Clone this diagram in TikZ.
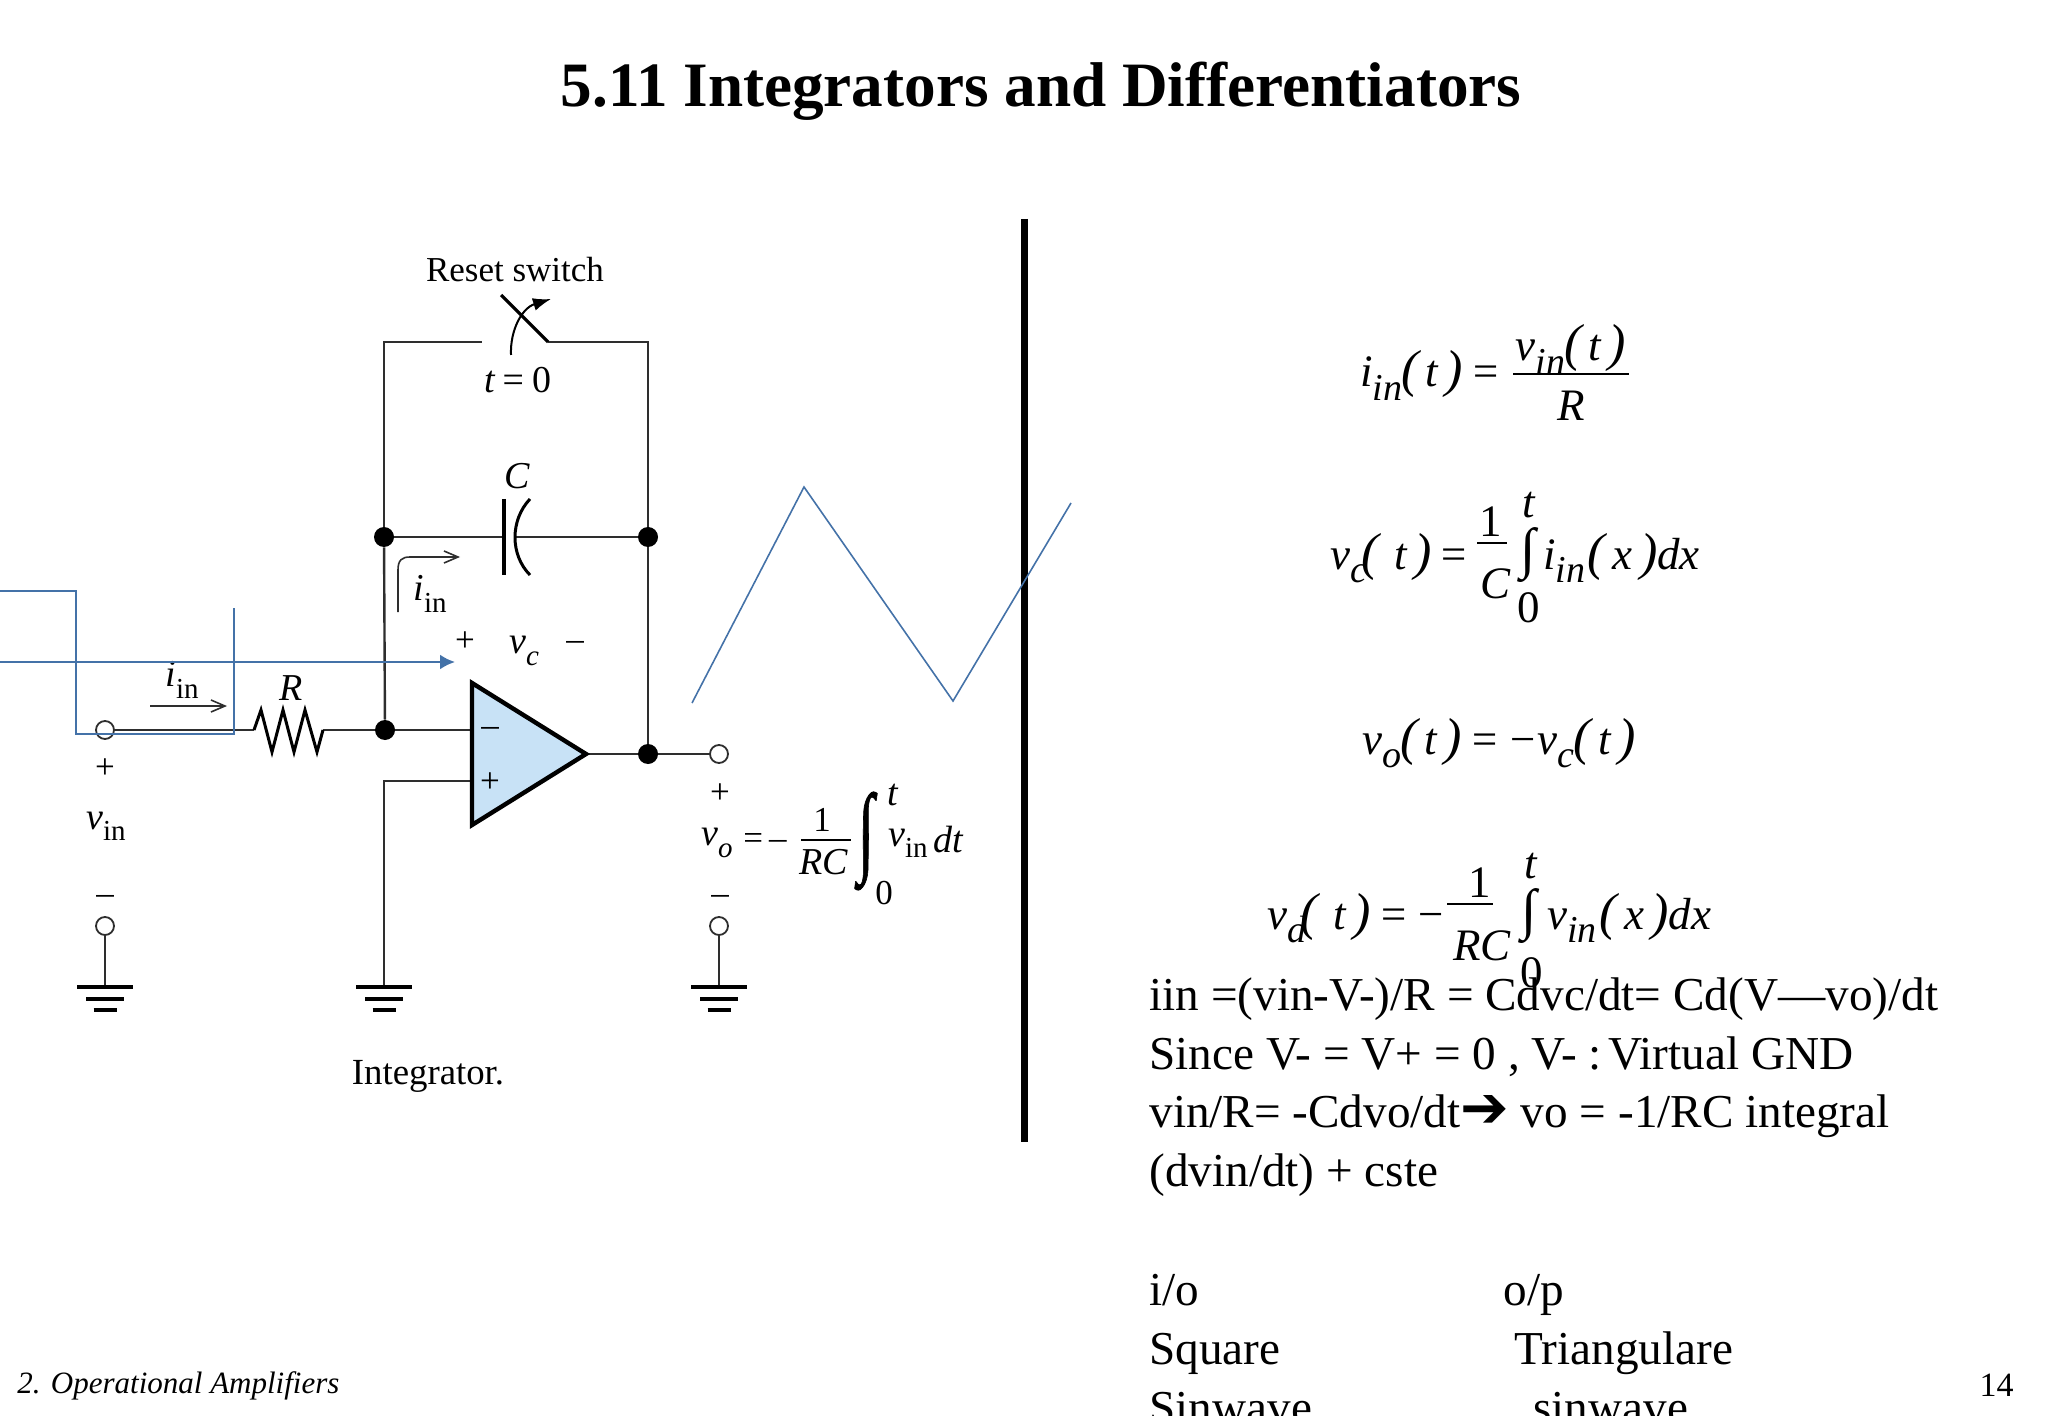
\documentclass[tikz,border=0pt]{standalone}
\usepackage{fontspec}
\setmainfont{Liberation Serif}
\newfontfamily\arrowfont{DejaVu Sans}
\newfontfamily\intfont[FakeBold=1]{Liberation Serif}
\usetikzlibrary{arrows.meta}
\definecolor{wirecol}{HTML}{2E2E2E}
\definecolor{bluecol}{HTML}{4472A8}
\definecolor{ampcol}{HTML}{C8E2F6}
\newcommand{\lowsub}[1]{\raisebox{-0.3em}{\fontsize{19}{19}\selectfont #1}}
\newcommand{\cirsub}[1]{\raisebox{-0.3em}{\fontsize{14.5}{15}\selectfont\upshape #1}}
\newcommand{\lparen}{{\fontsize{26}{26}\selectfont(}}
\newcommand{\rparen}{{\fontsize{26}{26}\selectfont)}}
\tikzset{
  wire/.style={line width=1.2pt,color=wirecol},
  gndline/.style={line width=2pt,color=black},
  dot/.style={circle,fill=black,inner sep=0pt,minimum size=10pt},
  term/.style={circle,draw=wirecol,fill=white,line width=0.9pt,inner sep=0pt,minimum size=9pt},
  opamp/.style={line width=2.2pt,draw=black,fill=ampcol,line join=miter},
  sig/.style={line width=0.8pt,color=bluecol},
  lab/.style={inner sep=0pt,font=\fontsize{17.5}{20}\selectfont},
  labit/.style={inner sep=0pt,font=\fontsize{19}{22}\selectfont\itshape},
  eqn/.style={inner sep=0pt,anchor=base west,font=\fontsize{22.5}{26}\selectfont\itshape},
  eqc/.style={inner sep=0pt,anchor=base,font=\fontsize{22.5}{26}\selectfont\itshape},
  fracline/.style={line width=0.6pt,color=black},
  body/.style={inner sep=0pt,anchor=base west,font=\fontsize{23.6}{28}\selectfont},
}
\newcommand{\gndsym}[1]{
  \draw[gndline] ([xshift=-14pt]#1) -- ([xshift=14pt]#1);
  \draw[gndline] ([xshift=-9.5pt,yshift=-6pt]#1) -- ([xshift=9.5pt,yshift=-6pt]#1);
  \draw[gndline] ([xshift=-5.75pt,yshift=-11.5pt]#1) -- ([xshift=5.75pt,yshift=-11.5pt]#1);
}
\begin{document}
\begin{tikzpicture}[x=0.5pt,y=-0.5pt]
  \useasboundingbox (0,0) rectangle (2048,1416);
  \node[inner sep=0pt,font=\fontsize{31.6}{36}\selectfont\bfseries] (title) at (1041,91){5.11 Integrators and Differentiators};
  % circuit
  \node[dot] (nodea) at (385,730){};
  \node[dot] (nodeb) at (384,537){};
  \node[dot] (nodec) at (648,537){};
  \node[dot] (noded) at (648,754){};
  \node[term] (vinp) at (105,730){};
  \node[term] (vinm) at (105,926){};
  \node[term] (vop) at (719,754){};
  \node[term] (vom) at (719,926){};
  \coordinate (g1) at (105,987);
  \coordinate (g2) at (384,987);
  \coordinate (g3) at (719,987);
  \coordinate (tl) at (384,342);
  \coordinate (tr) at (648,342);
  \coordinate (swl) at (482,342);
  \coordinate (swr) at (548,342);
  \coordinate (swt) at (501,295);
  \coordinate (capl) at (504,537);
  \coordinate (capr) at (515,537);
  \coordinate (ra) at (254,730);
  \coordinate (rb) at (323,730);
  \coordinate (opa) at (472,683);
  \coordinate (opb) at (472,825);
  \coordinate (opc) at (586,754);
  \coordinate (inm) at (472,730);
  \coordinate (inp) at (472,781);
  \coordinate (inpc) at (384,781);
  \draw[wire] (vinp) -- (ra);
  \draw[wire] (rb) -- (nodea);
  \draw[wire] (nodea) -- (inm);
  \draw[wire] (nodea) -- (nodeb);
  \draw[wire] (nodeb) -- (tl) -- (swl);
  \draw[wire] (swr) -- (tr) -- (nodec);
  \draw[wire] (nodec) -- (noded);
  \draw[wire] (nodeb) -- (capl);
  \draw[wire] (capr) -- (nodec);
  \draw[wire] (opc) -- (noded) -- (vop);
  \draw[wire] (vinm) -- (g1);
  \draw[wire] (vom) -- (g3);
  \draw[wire] (inp) -- (inpc) -- (g2);
  \gndsym{g1}
  \gndsym{g2}
  \gndsym{g3}
  \draw[line width=1.5pt,line join=miter,color=black] (ra) -- (261,710) -- (272,752) -- (283,710) -- (294,752) -- (305,710) -- (317,752) -- (rb);
  \draw[line width=1.6pt,color=black] (swt) -- (swr);
  \draw[line width=1pt,color=black,-{Latex[length=9pt,width=6.5pt]}] (511,355) .. controls (510,330) and (522,308) .. (551,299);
  \draw[line width=1.7pt,color=black] (504,499) -- (504,575);
  \draw[line width=1.5pt,color=black] (530,499) .. controls (510,520) and (510,555) .. (530,575);
  \draw[opamp] (opa) -- (opc) -- (opb) -- cycle;
  % current arrows
  \draw[line width=0.8pt,color=wirecol,-{Straight Barb[length=7pt,width=6pt]}] (398,612) -- (398,570) .. controls (398,560) and (402,557) .. (410,557) -- (460,557);
  \draw[line width=0.8pt,color=wirecol,-{Straight Barb[length=7pt,width=6pt]}] (150,706) -- (227,706);
  % circuit labels
  \node[lab] (resetlab) at (515,270){Reset switch};
  \node[labit] (swlab) at (518,380){t\,=\,\upshape 0};
  \node[labit] (caplab) at (517,476){C};
  \node[labit] (reslab) at (291,688){R};
  \node[labit] (iinlaba) at (182,680){i\cirsub{in}};
  \node[labit] (iinlabb) at (430,594){i\cirsub{in}};
  \node[lab] (vcp) at (465,642){+};
  \node[labit] (vclab) at (524,651){v\cirsub{\itshape c}};
  \node[lab] (vcm) at (575,646){\textendash};
  \node[lab] (ampm) at (490,732){\textendash};
  \node[lab] (ampp) at (490,783){+};
  \node[lab] (vinplus) at (105,769){+};
  \node[labit] (vinlab) at (106,826){v\cirsub{in}};
  \node[lab] (vinminus) at (105,900){\textendash};
  \node[lab] (voplus) at (720,794){+};
  \node[lab] (vominus) at (720,900){\textendash};
  \node[labit] (volab) at (717,843){v\cirsub{\itshape o}};
  \node[lab] (voeq) at (765,841){=\,\textendash};
  \node[lab] (voone) at (822,820){1};
  \node[labit] (vorc) at (824,862){RC};
  \draw[fracline] (801,840) -- (851,840);
  \node[inner sep=0pt,xscale=0.6,font=\intfont\fontsize{50}{52}\selectfont] (voint) at (866,841){∫};
  \node[labit] (vot) at (893,795){t};
  \node[lab] (vozero) at (884,893){0};
  \node[labit] (vovin) at (908,843){v\cirsub{in}};
  \node[labit] (vodt) at (948,840){dt};
  \node[inner sep=0pt,font=\fontsize{18.4}{22}\selectfont] (intlab) at (428,1076){Integrator.};
  % waveforms
  \coordinate (sqa) at (0,591);
  \coordinate (sqb) at (76,591);
  \coordinate (sqc) at (76,734);
  \coordinate (sqd) at (234,734);
  \coordinate (sqe) at (234,608);
  \coordinate (axa) at (0,662);
  \coordinate (axb) at (455,662);
  \coordinate (tria) at (692,703);
  \coordinate (trib) at (804,487);
  \coordinate (tric) at (953,701);
  \coordinate (trid) at (1071,503);
  \coordinate (bara) at (1024,219);
  \coordinate (barb) at (1024,1142);
  \draw[line width=3.5pt,color=black] (bara) -- (barb);
  \draw[sig] (sqa) -- (sqb) -- (sqc) -- (sqd) -- (sqe);
  \draw[sig,line width=1.2pt,-{Latex[length=7.5pt,width=7.5pt]}] (axa) -- (axb);
  \draw[sig] (tria) -- (trib) -- (tric) -- (trid);
  % equations
  \node[eqn] (eqa) at (1360,387){i\lowsub{in}\kern-0.03em\lparen\,t\,\rparen\,=};
  \node[eqc] (eqanum) at (1571,361){v\lowsub{in}\kern-0.03em\lparen\,t\,\rparen};
  \draw[fracline] (1513,374) -- (1629,374);
  \node[eqc] (eqaden) at (1571,421){R};
  \node[eqn] (eqb) at (1330,569){v\lowsub{c}\kern-0.12em\lparen\,\,t\,\rparen\,=};
  \node[eqc] (eqbnum) at (1491,537){\upshape 1};
  \draw[fracline] (1477,543) -- (1507,543);
  \node[eqc] (eqbden) at (1495,598){C};
  \node[eqc] (eqbt) at (1529,518){t};
  \node[inner sep=0pt,font=\fontsize{28}{30}\selectfont] (eqbint) at (1528,555){∫};
  \node[eqc] (eqbzero) at (1529,622){\upshape 0};
  \node[eqn] (eqbr) at (1543,569){i\lowsub{in}\kern0.05em\lparen\,x\,\rparen dx};
  \node[eqn] (eqc) at (1362,754){v\lowsub{o}\kern-0.03em\lparen\,t\,\rparen\,=\,\textminus v\lowsub{c}\kern-0.03em\lparen\,t\,\rparen};
  \node[eqn] (eqd) at (1267,929){v\lowsub{d}\kern-0.12em\lparen\,\,t\,\rparen\,=\,\textminus};
  \node[eqc] (eqdnum) at (1480,897){\upshape 1};
  \draw[fracline] (1447,904) -- (1493,904);
  \node[eqc] (eqdden) at (1482,960){RC};
  \node[eqc] (eqdt) at (1531,878){t};
  \node[inner sep=0pt,font=\fontsize{28}{30}\selectfont] (eqdint) at (1529,916){∫};
  \node[eqc] (eqdzero) at (1532,987){\upshape 0};
  \node[eqn] (eqdr) at (1547,929){v\lowsub{in}\kern0.05em\lparen\,x\,\rparen dx};
  % text lines
  \node[body] (txta) at (1149,1010){iin =(vin-V-)/R = Cdvc/dt= Cd(V—vo)/dt};
  \node[body] (txtb) at (1149,1069){Since V- = V+ = 0 , V- :\kern-0.2em{} Virtual GND};
  \node[body] (txtc) at (1149,1127){vin/R= -Cdvo/dt{\arrowfont\fontsize{29}{28}\selectfont ➔} vo = -1/RC integral};
  \node[body] (txtd) at (1149,1186){(dvin/dt) + cste};
  \node[body] (txte) at (1149,1305){i/o};
  \node[body] (txtf) at (1503,1305){o/p};
  \node[body] (txtg) at (1149,1364){Square};
  \node[body] (txth) at (1514,1364){Triangulare};
  \node[body] (txti) at (1149,1423){Sinwave};
  \node[body] (txtj) at (1533,1423){sinwave};
  % footer
  \node[inner sep=0pt,anchor=base west,font=\fontsize{15.5}{18}\selectfont\itshape] (foota) at (17,1393){2. Operational Amplifiers};
  \node[inner sep=0pt,anchor=base east,font=\fontsize{17}{20}\selectfont] (footb) at (2014,1396){14};
\end{tikzpicture}
\end{document}
